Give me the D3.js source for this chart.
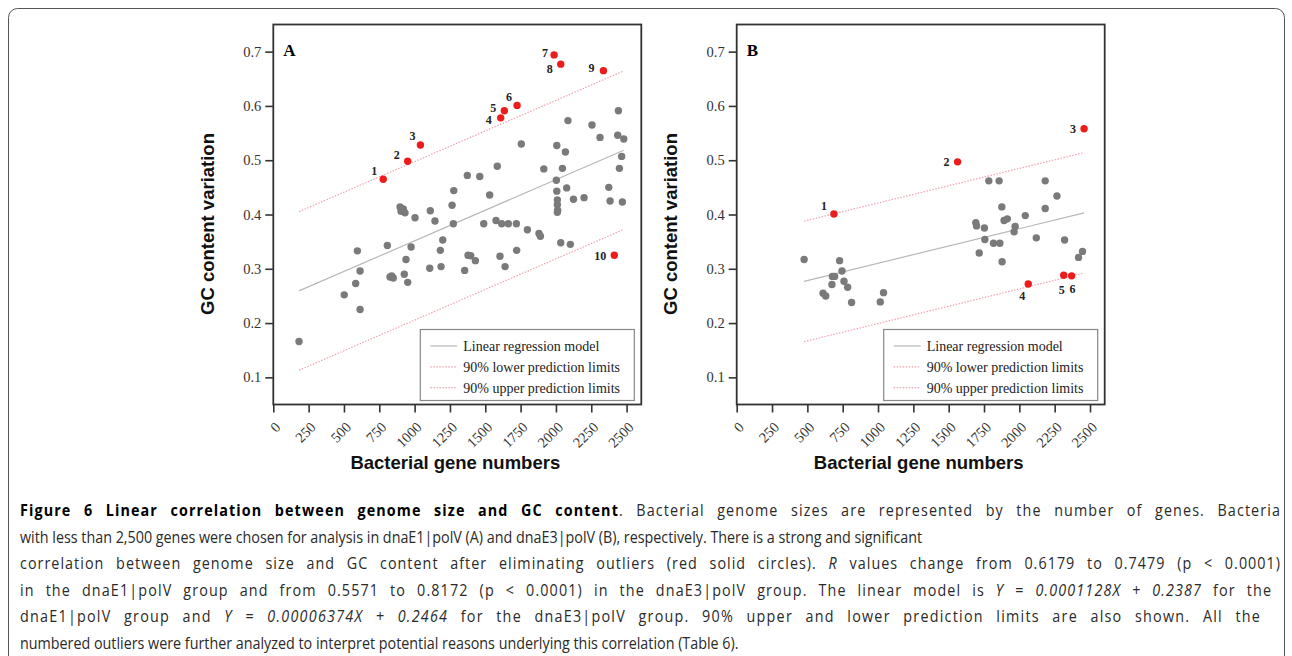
<!DOCTYPE html>
<html>
<head>
<meta charset="utf-8">
<script src="https://cdn.jsdelivr.net/npm/d3@7"></script>
<style>
  body { margin: 0; background: #fff; }
  svg { display: block; }
</style>
</head>
<body>
<svg id="fig" width="1292" height="656"></svg>
<script>
// panel A (dnaE1|polV): gene numbers and GC content variation
genesA = [182, 502, 614, 583, 614, 595, 807, 838, 826, 849, 927, 951, 939, 975, 897, 920, 932, 904,
  1003, 1111, 1144, 1199, 1182, 1187, 1107, 1277, 1265, 1274, 2442, 2085, 2255, 2312, 2437, 2480,
  1755, 2006, 2067, 2465, 2449, 1585, 1373, 1461, 1914, 2046, 2003, 1531, 2006, 2076, 2374, 2010,
  2010, 2012, 2010, 2124, 2199, 2383, 2470, 1489, 1576, 1616, 1663, 1720, 1798, 1880, 1890, 1378,
  1397, 1430, 1354, 1604, 1640, 1722, 2034, 2102]
gcA = [0.166, 0.252, 0.225, 0.273, 0.296, 0.333, 0.343, 0.287, 0.285, 0.283, 0.290, 0.275, 0.317, 0.340, 0.414, 0.410, 0.403, 0.406,
  0.394, 0.407, 0.388, 0.353, 0.334, 0.304, 0.301, 0.444, 0.417, 0.383, 0.591, 0.573, 0.565, 0.542, 0.546, 0.539,
  0.530, 0.527, 0.515, 0.507, 0.485, 0.489, 0.472, 0.470, 0.484, 0.485, 0.463, 0.436, 0.443, 0.449, 0.450, 0.427,
  0.418, 0.408, 0.404, 0.428, 0.431, 0.425, 0.423, 0.383, 0.389, 0.383, 0.383, 0.383, 0.372, 0.365, 0.360, 0.325,
  0.324, 0.315, 0.297, 0.323, 0.304, 0.334, 0.348, 0.345]
outGenesA = [778, 951, 1041, 1609, 1635, 1725, 1987, 2034, 2336, 2413]
outGcA = [0.465, 0.498, 0.528, 0.578, 0.591, 0.601, 0.694, 0.677, 0.665, 0.325]

// panel B (dnaE3|polV)
genesB = [477, 728, 745, 677, 693, 674, 759, 785, 611, 630, 813, 1016, 1039, 1784, 1857, 2183, 2266, 1876,
  2183, 2042, 1892, 1915, 1692, 1697, 1753, 1970, 1963, 1756, 1817, 1862, 2120, 2320, 1716, 1878, 2419, 2447]
gcB = [0.317, 0.315, 0.296, 0.286, 0.286, 0.271, 0.277, 0.266, 0.255, 0.250, 0.238, 0.239, 0.256, 0.462, 0.462, 0.462, 0.434, 0.414,
  0.411, 0.398, 0.389, 0.392, 0.385, 0.379, 0.375, 0.378, 0.368, 0.354, 0.347, 0.347, 0.357, 0.353, 0.329, 0.313, 0.321, 0.332]
outGenesB = [688, 1563, 2458, 2063, 2314, 2370]
outGcB = [0.401, 0.497, 0.558, 0.272, 0.288, 0.287]

// linear models from the caption, and half width of the 90% limits
slopeA = 0.0001128, interceptA = 0.2387, limitA = 0.146
slopeB = 0.00006374, interceptB = 0.2464, limitB = 0.111

xTicks = [0, 250, 500, 750, 1000, 1250, 1500, 1750, 2000, 2250, 2500]
yTicks = [0.1, 0.2, 0.3, 0.4, 0.5, 0.6, 0.7]
legendNames = ["Linear regression model", "90% lower prediction limits", "90% upper prediction limits"]

// where the outlier numbers sit relative to their dot
labelOffA = [[-9, -8], [-11, -7], [-8, -9], [-12, 2], [-11, -3], [-8, -9], [-9, -2], [-11, 5], [-12, -3], [-14, 1]]
labelOffB = [[-10, -8], [-11, 0], [-11, 0], [-6, 12], [-2, 14], [1, 13]]

const serif = "'Liberation Serif', 'Times New Roman', serif"
const sans = "'Liberation Sans', Arial, sans-serif"
const grey = "#7a7a7a", red = "#ec1c1c", pink = "#f2a2ae"

const svg = d3.select("#fig")

// outer rounded frame of the figure
svg.append("rect")
  .attr("x", 8.5).attr("y", 8.5)
  .attr("width", 1276).attr("height", 720)
  .attr("rx", 9)
  .attr("fill", "none").attr("stroke", "#555").attr("stroke-width", 1)

function drawPanel(left, letter, genes, gc, outGenes, outGc, slope, intercept, limit, labelOff) {
  const top = 24.5, w = 368, h = 380
  const g = svg.append("g").attr("transform", "translate(" + left + "," + top + ")")

  const x = d3.scaleLinear().domain([0, 2604]).range([0, w])
  const y = d3.scaleLinear().domain([0.05, 0.75]).range([h, 0])

  // axes
  const yAxis = g.append("g")
    .call(d3.axisLeft(y).tickValues(yTicks).tickSize(8).tickPadding(4).tickFormat(d3.format(".1f")))
  yAxis.select(".domain").remove()
  yAxis.selectAll("line").attr("stroke", "#333").attr("stroke-width", 1.6)
  yAxis.selectAll("text").attr("font-family", serif).attr("font-size", 14.5).attr("fill", "#333")

  const xAxis = g.append("g").attr("transform", "translate(0," + h + ")")
    .call(d3.axisBottom(x).tickValues(xTicks).tickSize(8).tickFormat(d3.format("d")))
  xAxis.select(".domain").remove()
  xAxis.selectAll("line").attr("stroke", "#333").attr("stroke-width", 1.6)
  xAxis.selectAll("text")
    .attr("font-family", serif).attr("font-size", 14.5).attr("fill", "#333")
    .attr("text-anchor", "end")
    .attr("dy", "0.35em")
    .attr("transform", "translate(4,20) rotate(-45)")
    .attr("y", 0)

  // frame
  g.append("rect")
    .attr("width", w).attr("height", h)
    .attr("fill", "none").attr("stroke", "#333").attr("stroke-width", 1.8)

  // regression and prediction limits
  const allX = genes.concat(outGenes)
  const x0 = d3.min(allX), x1 = d3.max(allX)
  const fit = d => intercept + slope * d
  const line = d3.line().x(d => x(d[0])).y(d => y(d[1]))

  g.append("path").datum([[x0, fit(x0)], [x1, fit(x1)]])
    .attr("d", line).attr("stroke", "#b8b8b8").attr("stroke-width", 1.2).attr("fill", "none")
  for (const s of [1, -1]) {
    g.append("path").datum([[x0, fit(x0) + s * limit], [x1, fit(x1) + s * limit]])
      .attr("d", line).attr("stroke", pink).attr("stroke-width", 1.2)
      .attr("stroke-dasharray", "1.5,1.5").attr("fill", "none")
  }

  // points
  g.append("g").selectAll("circle")
    .data(genes.map((d, i) => [d, gc[i]]))
    .join("circle")
    .attr("cx", d => x(d[0])).attr("cy", d => y(d[1]))
    .attr("r", 3.7).attr("fill", grey)

  g.append("g").selectAll("circle")
    .data(outGenes.map((d, i) => [d, outGc[i]]))
    .join("circle")
    .attr("cx", d => x(d[0])).attr("cy", d => y(d[1]))
    .attr("r", 3.7).attr("fill", red)

  g.append("g").selectAll("text")
    .data(outGenes.map((d, i) => [d, outGc[i], i]))
    .join("text")
    .attr("x", d => x(d[0]) + labelOff[d[2]][0])
    .attr("y", d => y(d[1]) + labelOff[d[2]][1])
    .attr("dy", "0.35em")
    .attr("text-anchor", "middle")
    .attr("font-family", serif).attr("font-weight", "bold").attr("font-size", 12)
    .attr("fill", "#222")
    .text(d => d[2] + 1)

  // panel letter
  g.append("text").attr("x", 10).attr("y", 31)
    .attr("font-family", serif).attr("font-weight", "bold").attr("font-size", 17)
    .text(letter)

  // legend
  const lg = g.append("g").attr("transform", "translate(" + (w - 221) + "," + (h - 75) + ")")
  lg.append("rect").attr("width", 214).attr("height", 71)
    .attr("fill", "#fff").attr("stroke", "#888").attr("stroke-width", 1.2)
  legendNames.forEach((name, i) => {
    const yy = 16.5 + i * 20.8
    lg.append("line").attr("x1", 10).attr("x2", 37).attr("y1", yy).attr("y2", yy)
      .attr("stroke", i == 0 ? "#b8b8b8" : pink).attr("stroke-width", 1.2)
      .attr("stroke-dasharray", i == 0 ? null : "1.5,1.5")
    lg.append("text").attr("x", 43).attr("y", yy).attr("dy", "0.35em")
      .attr("font-family", serif).attr("font-size", 14).attr("fill", "#222")
      .text(name)
  })

  // axis titles
  svg.append("text")
    .attr("transform", "translate(" + (left - 66) + "," + 224 + ") rotate(-90)")
    .attr("text-anchor", "middle").attr("dy", "0.35em")
    .attr("font-family", sans).attr("font-weight", "bold").attr("font-size", 18.5).attr("fill", "#111")
    .text("GC content variation")
  svg.append("text")
    .attr("x", left + w / 2 - 2).attr("y", 469)
    .attr("text-anchor", "middle")
    .attr("font-family", sans).attr("font-weight", "bold").attr("font-size", 18.5).attr("fill", "#111")
    .text("Bacterial gene numbers")
}

drawPanel(273.3, "A", genesA, gcA, outGenesA, outGcA, slopeA, interceptA, limitA, labelOffA)
drawPanel(736.7, "B", genesB, gcB, outGenesB, outGcB, slopeB, interceptB, limitB, labelOffB)

// caption, one entry per line: [text, style] pieces, the width it fills, justified or not
captionLines = [
  [[["Figure 6 Linear correlation between genome size and GC content", "b"], [". Bacterial genome sizes are represented by the number of genes. Bacteria", ""]], 1262, true],
  [[["with less than 2,500 genes were chosen for analysis in dnaE1|polV (A) and dnaE3|polV (B), respectively. There is a strong and significant", ""]], 848, false],
  [[["correlation between genome size and GC content after eliminating outliers (red solid circles). ", ""], ["R", "i"], [" values change from 0.6179 to 0.7479 (p < 0.0001)", ""]], 1262, true],
  [[["in the dnaE1|polV group and from 0.5571 to 0.8172 (p < 0.0001) in the dnaE3|polV group. The linear model is ", ""], ["Y", "i"], [" = ", ""], ["0.0001128X + 0.2387", "i"], [" for the", ""]], 1253, true],
  [[["dnaE1|polV group and ", ""], ["Y", "i"], [" = ", ""], ["0.00006374X + 0.2464", "i"], [" for the dnaE3|polV group. 90% upper and lower prediction limits are also shown. All the", ""]], 1242, true],
  [[["numbered outliers were further analyzed to interpret potential reasons underlying this correlation (Table 6).", ""]], 763, false]
]

// condensed face: squeeze glyphs to the short lines, then justify the full lines
// (half of the slack goes to the letters, half to the word gaps)
const capTexts = captionLines.map(ln => {
  const t = svg.append("text")
    .attr("font-family", "'Open Sans', 'Noto Sans', sans-serif").attr("font-size", 16.5).attr("fill", "#2a2a2a")
  for (const piece of ln[0]) {
    t.append("tspan").text(piece[0])
      .attr("font-weight", piece[1] == "b" ? "bold" : null)
      .attr("fill", piece[1] == "b" ? "#000" : null)
      .attr("font-style", piece[1] == "i" ? "italic" : null)
  }
  return t
})
const ratios = []
captionLines.forEach((ln, i) => {
  if (!ln[2]) ratios.push(ln[1] / capTexts[i].node().getComputedTextLength())
})
const sx = d3.mean(ratios)
captionLines.forEach((ln, i) => {
  const t = capTexts[i]
  if (ln[2]) {
    const natural = t.node().getComputedTextLength()
    const str = ln[0].map(p => p[0]).join("")
    const slack = ln[1] / sx - natural
    const spaces = str.split(" ").length - 1
    t.attr("letter-spacing", slack * 0.5 / str.length)
    t.attr("word-spacing", slack * 0.5 / spaces)
  }
  t.attr("transform", "translate(20," + (516 + i * 26.6) + ") scale(" + sx + ",1)")
})
</script>
</body>
</html>
